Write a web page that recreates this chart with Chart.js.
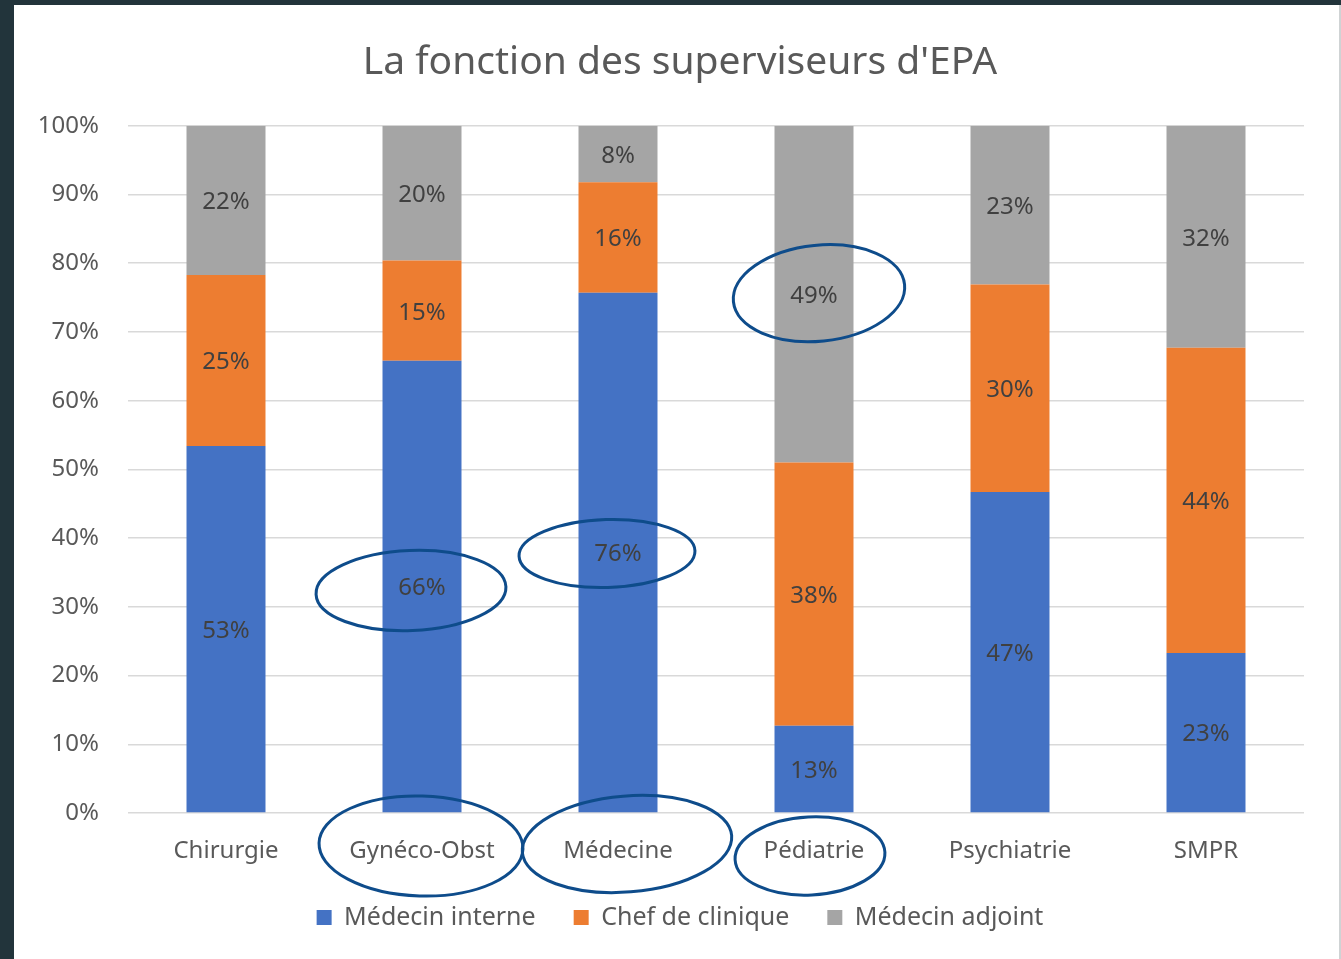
<!DOCTYPE html>
<html><head><meta charset="utf-8">
<script src="https://cdn.jsdelivr.net/npm/chart.js@4.4.0/dist/chart.umd.min.js"></script>
<style>
html,body{margin:0;padding:0;background:#22343b;width:1341px;height:959px;overflow:hidden;}
#frame{position:absolute;left:14px;top:5px;width:1325px;height:954px;background:#fff;border-right:2px solid #cfd3d4;overflow:hidden;}
canvas{display:block}
</style></head><body>
<div id="frame"><canvas id="c" width="1325" height="954"></canvas></div>
<script>
const categories = ['Chirurgie', 'Gynéco-Obst', 'Médecine', 'Pédiatrie', 'Psychiatrie', 'SMPR'];
const seriesNames = ['Médecin interne', 'Chef de clinique', 'Médecin adjoint'];
const medecinInterne = [53.4, 65.8, 75.7, 12.7, 46.7, 23.3];
const chefDeClinique = [24.9, 14.6, 16.1, 38.3, 30.2, 44.4];
const medecinAdjoint = [21.7, 19.6, 8.2, 49.0, 23.1, 32.3];
const yTickValues = [0, 10, 20, 30, 40, 50, 60, 70, 80, 90, 100];
const titleText = "La fonction des superviseurs d'EPA";

const FONT = '"Noto Sans", "Open Sans", sans-serif';
const TXT = '#595959';
const colors = ['#4472C4', '#ED7D31', '#A5A5A5'];

const barLabels = {
  id: 'barLabels',
  afterDatasetsDraw(chart) {
    const ctx = chart.ctx;
    ctx.save();
    ctx.font = '24px ' + FONT;
    ctx.fillStyle = '#404040';
    ctx.textAlign = 'center';
    ctx.textBaseline = 'middle';
    chart.data.datasets.forEach((ds, i) => {
      chart.getDatasetMeta(i).data.forEach((el, j) => {
        ctx.fillText(Math.round(ds.data[j]) + '%', el.x, (el.y + el.base) / 2 + 2);
      });
    });
    ctx.restore();
  }
};

// hand-drawn annotation rings, anchored to bar labels / category labels
const rings = [
  {ds: 0, idx: 1, dx: -11, dy: 4, rx: 95, ry: 40, rot: -0.04},
  {ds: 0, idx: 2, dx: -11, dy: 1, rx: 88, ry: 34, rot: -0.03},
  {ds: 2, idx: 3, dx: 5, dy: -1, rx: 86, ry: 48, rot: -0.1},
  {axis: true, idx: 1, dx: -1, dy: -4, rx: 102, ry: 50, rot: 0.03},
  {axis: true, idx: 2, dx: 9, dy: -6, rx: 105, ry: 48, rot: -0.08},
  {axis: true, idx: 3, dx: -4, dy: 6, rx: 75, ry: 39, rot: -0.05}
];
const annotations = {
  id: 'annotations',
  afterDraw(chart) {
    const ctx = chart.ctx;
    const xs = chart.scales.x;
    const axisLabelY = xs.top + xs.options.ticks.padding + 13;
    ctx.save();
    ctx.strokeStyle = '#0e4c8b';
    ctx.lineWidth = 3;
    rings.forEach(r => {
      let cx, cy;
      if (r.axis) { cx = xs.getPixelForValue(r.idx); cy = axisLabelY; }
      else {
        const el = chart.getDatasetMeta(r.ds).data[r.idx];
        cx = el.x; cy = (el.y + el.base) / 2;
      }
      ctx.beginPath();
      ctx.ellipse(cx + r.dx, cy + r.dy, r.rx, r.ry, r.rot, 0, Math.PI * 2);
      ctx.stroke();
    });
    ctx.restore();
  }
};

new Chart(document.getElementById('c'), {
  type: 'bar',
  data: {
    labels: categories,
    datasets: [
      {label: seriesNames[0], data: medecinInterne, backgroundColor: colors[0]},
      {label: seriesNames[1], data: chefDeClinique, backgroundColor: colors[1]},
      {label: seriesNames[2], data: medecinAdjoint, backgroundColor: colors[2]}
    ]
  },
  options: {
    responsive: false,
    animation: false,
    datasets: {bar: {barPercentage: 1, categoryPercentage: 0.403}},
    layout: {padding: {left: 7, right: 0, top: 0, bottom: 19}},
    plugins: {
      title: {display: true, text: titleText, color: TXT, font: {family: FONT, size: 39, weight: 'normal'}, padding: {top: 34, bottom: 40}},
      legend: {position: 'bottom', labels: {color: TXT, font: {family: FONT, size: 25}, boxWidth: 15, boxHeight: 15, padding: 38}},
      tooltip: {enabled: false}
    },
    scales: {
      x: {
        stacked: true,
        grid: {display: false, drawTicks: false},
        border: {display: false},
        afterFit: s => { s.height = 54; },
        ticks: {color: TXT, font: {family: FONT, size: 24}, padding: 24}
      },
      y: {
        stacked: true, min: 0, max: 100,
        afterBuildTicks: s => { s.ticks = yTickValues.map(v => ({value: v})); },
        afterFit: s => { s.width = 107; },
        ticks: {color: TXT, font: {family: FONT, size: 24}, padding: 29, callback: v => v + '%'},
        grid: {color: '#d9d9d9', lineWidth: 1.5, drawTicks: false},
        border: {display: false}
      },
      yRightSpace: {
        type: 'linear', position: 'right', display: true, min: 0, max: 100,
        grid: {display: false, drawTicks: false},
        ticks: {display: false},
        border: {display: false},
        afterFit: s => { s.width = 35; }
      }
    }
  },
  plugins: [barLabels, annotations]
});
</script>
</body></html>
